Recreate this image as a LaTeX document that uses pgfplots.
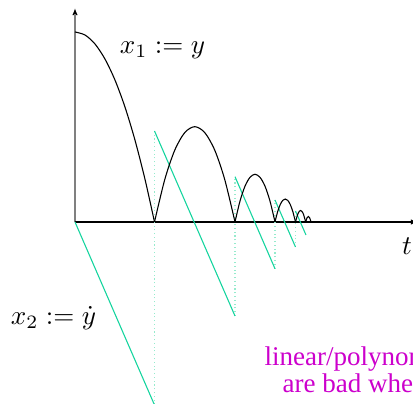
\documentclass[border=0pt]{standalone}
\usepackage{fontspec}
\setmainfont{Liberation Serif}
\usepackage{pgfplots}
\pgfplotsset{compat=1.18}
\usetikzlibrary{arrows.meta}

\definecolor{velgreen}{RGB}{20,212,158}
\definecolor{jumpgreen}{RGB}{150,235,205}
\definecolor{notecolor}{RGB}{204,0,204}

\begin{document}
\begin{tikzpicture}
\begin{axis}[
  x=0.37pt, y=0.37pt,
  xmin=-75, xmax=338, ymin=-182, ymax=222,
  hide axis,
  clip=true,
  every axis plot/.append style={line width=0.4pt},
]
% axes
\draw[gray, line width=0.5pt, -{Latex[length=2.6pt,width=2.0pt]}, black] (axis cs:0,0) -- (axis cs:0,214);
\draw[gray, line width=0.45pt] (axis cs:0,0) -- (axis cs:0,208);
\draw[black, line width=0.6pt, -{Latex[length=2.6pt,width=2.0pt]}] (axis cs:0,0) -- (axis cs:343,0);

% velocity x2: jumps at impacts (dotted)
\addplot[jumpgreen, densely dotted, line width=0.4pt] coordinates {(79.5,-190) (79.5,91)};
\addplot[jumpgreen, densely dotted, line width=0.4pt] coordinates {(160,-94) (160,45.3)};
\addplot[jumpgreen, densely dotted, line width=0.4pt] coordinates {(200,-46.7) (200,22)};
\addplot[jumpgreen, densely dotted, line width=0.4pt] coordinates {(220.5,-25) (220.5,11)};

% velocity x2: free-fall segments
\addplot[velgreen] coordinates {(0,0) (79.5,-183)};
\addplot[velgreen] coordinates {(79.5,91) (160,-94)};
\addplot[velgreen] coordinates {(160,45.3) (200,-46.7)};
\addplot[velgreen] coordinates {(200,22) (220.5,-25)};
\addplot[velgreen] coordinates {(220.5,11) (231,-13)};

% height x1: bouncing arcs
\addplot[black, smooth] coordinates {(0,190) (10,187.0) (20,178.0) (30,162.9) (40,141.9) (50,114.9) (60,81.8) (70,42.7) (79.5,0)};
\addplot[black, smooth] coordinates {(79.5,0) (89.75,42.4) (99.75,71.8) (109.75,89.4) (119.75,95.3) (129.75,89.4) (139.75,71.8) (149.75,42.4) (160,0)};
\addplot[black, smooth] coordinates {(160,0) (165,20.9) (170,35.8) (175,44.7) (180,47.7) (185,44.7) (190,35.8) (195,20.9) (200,0)};
\addplot[black, smooth] coordinates {(200,0) (202.75,10.7) (205.25,17.5) (207.75,21.6) (210.25,23) (212.75,21.6) (215.25,17.5) (217.75,10.7) (220.5,0)};
\addplot[black, smooth] coordinates {(220.5,0) (223.1,8.7) (225.6,11.5) (228.1,8.7) (230.7,0)};
\addplot[black, smooth] coordinates {(230.7,0) (232,4.1) (233.4,5.5) (234.7,4.1) (236,0)};

% labels
\node at (axis cs:87.5,172) {$x_1 := y$};
\node at (axis cs:-21.5,-96) {$x_2 := \dot y$};
\node at (axis cs:332,-24) {$t$};
\node[anchor=base west, inner sep=0pt, text=notecolor] at (axis cs:189,-144) {linear/polynomial models};
\node[anchor=base west, inner sep=0pt, text=notecolor] at (axis cs:207,-171) {are bad when};
\end{axis}
\pgfresetboundingbox
\path[use as bounding box] (current axis.south west) rectangle (current axis.north east);
\end{tikzpicture}
\end{document}
